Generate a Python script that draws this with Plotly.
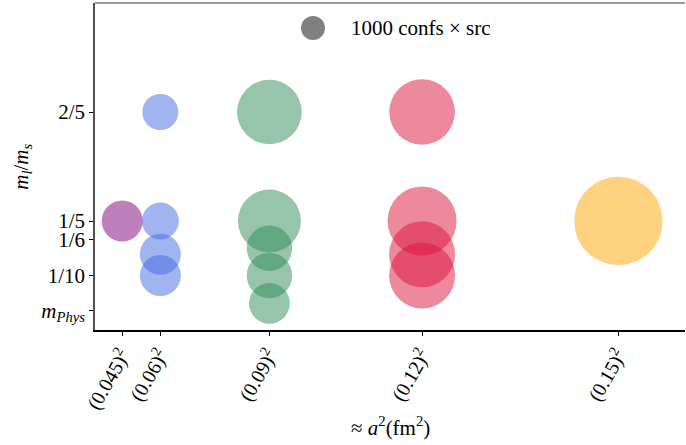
import plotly.graph_objects as go

# ---- data ----
lattice_a = [0.045, 0.06, 0.09, 0.12, 0.15]
x_ticktext = ["(0.045)<sup>2</sup>", "(0.06)<sup>2</sup>", "(0.09)<sup>2</sup>",
              "(0.12)<sup>2</sup>", "(0.15)<sup>2</sup>"]
y_tickvals = [0.4, 0.2, 1/6, 0.1, 0.0364]
y_ticktext = ["2/5", "1/5", "1/6", "1/10", "<i>m</i><sub><i>Phys</i></sub>"]

purple_ml = [0.2]
purple_stats = [2920]
blue_ml = [0.4, 0.2, 0.139, 0.1]
blue_stats = [2250, 2380, 2920, 2920]
green_ml = [0.4, 0.2, 0.15, 0.1, 0.049]
green_stats = [7250, 6890, 3580, 3580, 2890]
red_ml = [0.4, 0.2, 0.139, 0.1]
red_stats = [7470, 8270, 7560, 7560]
orange_ml = [0.2]
orange_stats = [13570]

legend_stats = 1000
legend_label = "1000 confs × src"

FONT = "Liberation Serif"
SIZEREF = 2 * 1000 / 24**2  # 1000 confs*src -> 24 px diameter

groups = [
    (lattice_a[0], purple_ml, purple_stats, "purple"),
    (lattice_a[1], blue_ml, blue_stats, "royalblue"),
    (lattice_a[2], green_ml, green_stats, "seagreen"),
    (lattice_a[3], red_ml, red_stats, "crimson"),
    (lattice_a[4], orange_ml, orange_stats, "orange"),
]

fig = go.Figure()
for a, ml, st, col in groups:
    fig.add_trace(go.Scatter(
        x=[a**2] * len(ml), y=ml, mode="markers",
        marker=dict(size=st, sizemode="area", sizeref=SIZEREF, color=col,
                    opacity=0.5, line=dict(width=0)),
        showlegend=False, hoverinfo="skip"))

# legend glyph
leg_d = 2 * (legend_stats / (2 * SIZEREF)) ** 0.5
fig.add_shape(type="circle", xref="paper", yref="paper",
              xsizemode="pixel", ysizemode="pixel",
              xanchor=0.3695, yanchor=0.9235,
              x0=-leg_d / 2, x1=leg_d / 2, y0=-leg_d / 2, y1=leg_d / 2,
              fillcolor="rgb(128,128,128)", line=dict(width=0))
fig.add_annotation(xref="paper", yref="paper", x=0.4305, y=0.9235,
                   xanchor="left", yanchor="middle", showarrow=False,
                   text=legend_label, font=dict(family=FONT, size=21, color="black"))
# top spine
fig.add_shape(type="line", xref="paper", yref="paper", x0=0, x1=1, y0=1, y1=1,
              line=dict(color="rgb(120,120,120)", width=1.5))

# axis titles
fig.add_annotation(xref="paper", yref="paper", x=0.5, y=-0.295,
                   xanchor="center", yanchor="middle", showarrow=False,
                   text="≈ <i>a</i><sup>2</sup>(fm<sup>2</sup>)",
                   font=dict(family=FONT, size=21, color="black"))
fig.add_annotation(xref="paper", yref="paper", x=-0.125, y=0.5,
                   xanchor="center", yanchor="middle", showarrow=False, textangle=-90,
                   text="<i>m<sub>l</sub></i>/<i>m<sub>s</sub></i>",
                   font=dict(family=FONT, size=21, color="black"))

fig.update_layout(
    width=686, height=445,
    margin=dict(l=95, r=1, t=3, b=115),
    paper_bgcolor="white", plot_bgcolor="white",
    font=dict(family=FONT, size=21, color="black"),
    xaxis=dict(range=[0.000903, 0.025248], tickmode="array",
               tickvals=[a**2 for a in lattice_a], ticktext=x_ticktext,
               tickangle=-60, showgrid=False, zeroline=False,
               showline=True, linecolor="black", linewidth=1.5,
               ticks="outside", ticklen=4, tickcolor="black",
               tickfont=dict(family=FONT, size=20)),
    yaxis=dict(range=[0, 0.6], tickmode="array", tickvals=y_tickvals,
               ticktext=y_ticktext, showgrid=False, zeroline=False,
               showline=True, linecolor="rgb(80,80,80)", linewidth=1.5,
               ticks="outside", ticklen=4, tickcolor="black",
               tickfont=dict(family=FONT, size=21)),
)

fig.write_html("out.html")
